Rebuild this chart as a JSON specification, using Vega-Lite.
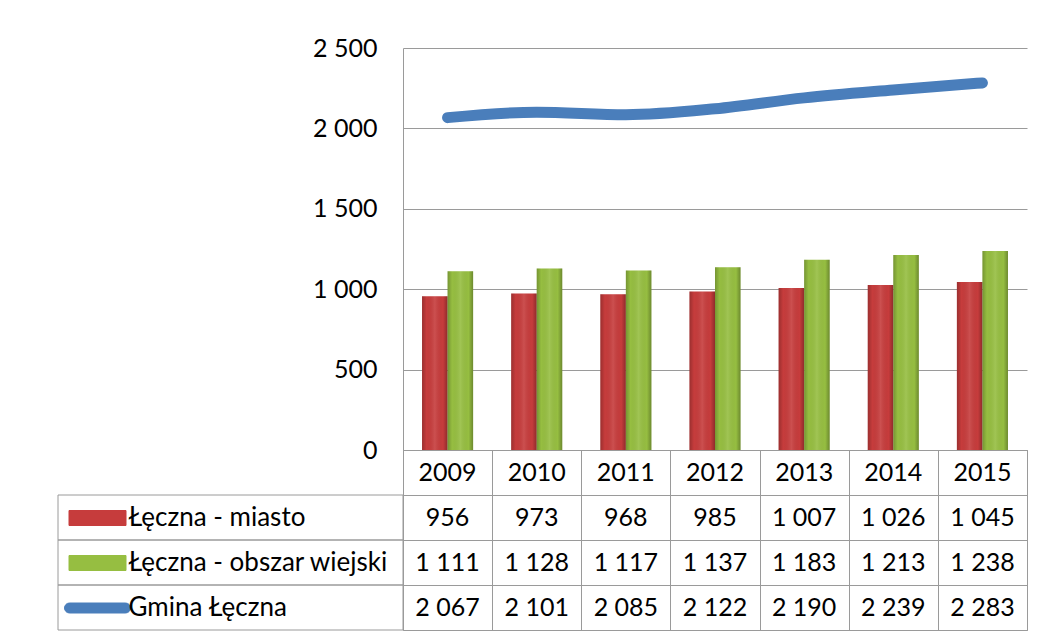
{
  "$schema": "https://vega.github.io/schema/vega-lite/v6.json",
  "padding": {"left": 57, "top": 36, "right": 10, "bottom": 5},
  "autosize": {"type": "pad"},
  "background": "white",
  "config": {
    "locale": {"number": {"decimal": ",", "thousands": " ", "grouping": [3], "currency": ["", " zł"]}},
    "font": "Lato",
    "view": {"stroke": null}
  },
  "datasets": {
    "pop": [
      {"year": "2009", "series": "Łęczna - miasto", "value": 956},
      {"year": "2009", "series": "Łęczna - obszar wiejski", "value": 1111},
      {"year": "2009", "series": "Gmina Łęczna", "value": 2067},
      {"year": "2010", "series": "Łęczna - miasto", "value": 973},
      {"year": "2010", "series": "Łęczna - obszar wiejski", "value": 1128},
      {"year": "2010", "series": "Gmina Łęczna", "value": 2101},
      {"year": "2011", "series": "Łęczna - miasto", "value": 968},
      {"year": "2011", "series": "Łęczna - obszar wiejski", "value": 1117},
      {"year": "2011", "series": "Gmina Łęczna", "value": 2085},
      {"year": "2012", "series": "Łęczna - miasto", "value": 985},
      {"year": "2012", "series": "Łęczna - obszar wiejski", "value": 1137},
      {"year": "2012", "series": "Gmina Łęczna", "value": 2122},
      {"year": "2013", "series": "Łęczna - miasto", "value": 1007},
      {"year": "2013", "series": "Łęczna - obszar wiejski", "value": 1183},
      {"year": "2013", "series": "Gmina Łęczna", "value": 2190},
      {"year": "2014", "series": "Łęczna - miasto", "value": 1026},
      {"year": "2014", "series": "Łęczna - obszar wiejski", "value": 1213},
      {"year": "2014", "series": "Gmina Łęczna", "value": 2239},
      {"year": "2015", "series": "Łęczna - miasto", "value": 1045},
      {"year": "2015", "series": "Łęczna - obszar wiejski", "value": 1238},
      {"year": "2015", "series": "Gmina Łęczna", "value": 2283}
    ]
  },
  "data": {"name": "pop"},
  "columns": 2,
  "spacing": 0,
  "bounds": "flush",
  "concat": [
    {
      "width": 345,
      "height": 402,
      "data": {"values": []},
      "mark": "point",
      "encoding": {}
    },
    {
      "width": 624,
      "height": 402,
      "encoding": {
        "x": {"field": "year", "type": "ordinal", "scale": {"paddingInner": 0, "paddingOuter": 0}, "axis": null},
        "y": {
          "field": "value", "type": "quantitative",
          "scale": {"domain": [0, 2500], "nice": false},
          "axis": {
            "values": [0, 500, 1000, 1500, 2000, 2500], "format": ",d", "title": null,
            "ticks": false, "labelPadding": 26, "labelFontSize": 25, "labelFont": "Lato",
            "labelColor": "#000", "domainColor": "#9a9a9a", "grid": true, "gridColor": "#9a9a9a"
          }
        }
      },
      "layer": [
        {
          "transform": [{"filter": "datum.series !== 'Gmina Łęczna'"}],
          "mark": {"type": "bar"},
          "encoding": {
            "xOffset": {"field": "series", "type": "nominal", "scale": {"domain": ["Łęczna - miasto", "Łęczna - obszar wiejski"], "paddingInner": 0, "paddingOuter": 0.745}},
            "color": {
              "field": "series", "type": "nominal",
              "scale": {"domain": ["Łęczna - miasto", "Łęczna - obszar wiejski", "Gmina Łęczna"], "range": ["#C63C3C", "#96BE41", "#4A7EBB"]},
              "legend": {
                "orient": "none", "legendX": 8, "legendY": 457, "title": null, "padding": 0,
                "labelFontSize": 26, "labelFont": "Lato", "labelColor": "#000", "labelLimit": 400,
                "symbolSize": 400, "symbolOffset": 18.5, "labelOffset": 18, "rowPadding": 19,
                "symbolType": "M-2.85,-0.75H2.85V0.75H-2.85Z",
                "encode": {
                  "symbols": {
                    "update": {
                      "shape": {"signal": "datum.value === 'Gmina Łęczna' ? 'M-2.8,-0.5H2.8A0.5,0.5,0,0,1,2.8,0.5H-2.8A0.5,0.5,0,0,1,-2.8,-0.5Z' : 'M-2.85,-0.75H2.85V0.75H-2.85Z'"},
                      "fill": {"signal": "datum.value === 'Łęczna - miasto' ? '#C63C3C' : datum.value === 'Łęczna - obszar wiejski' ? '#96BE41' : '#4A7EBB'"},
                      "stroke": {"signal": "datum.value === 'Gmina Łęczna' ? 'transparent' : datum.value === 'Łęczna - miasto' ? '#9E2B2D' : '#6F922B'"},
                      "strokeWidth": {"value": 1},
                      "opacity": {"value": 1}
                    }
                  }
                }
              }
            }
          }
        },
        {
          "transform": [{"filter": "datum.series !== 'Gmina Łęczna'"}],
          "mark": {
            "type": "bar",
            "fill": {"x1": 0, "x2": 1, "y1": 0, "y2": 0, "gradient": "linear", "stops": [
              {"offset": 0, "color": "rgba(0,0,0,0.22)"},
              {"offset": 0.18, "color": "rgba(0,0,0,0)"},
              {"offset": 0.5, "color": "rgba(255,255,255,0.1)"},
              {"offset": 0.82, "color": "rgba(0,0,0,0)"},
              {"offset": 1, "color": "rgba(0,0,0,0.28)"}
            ]}
          },
          "encoding": {
            "xOffset": {"field": "series", "type": "nominal"}
          }
        },
        {
          "transform": [{"filter": "datum.series === 'Gmina Łęczna'"}],
          "mark": {"type": "line", "strokeWidth": 11, "strokeCap": "round", "strokeJoin": "round", "interpolate": "monotone"},
          "encoding": {
            "color": {"field": "series", "type": "nominal"}
          }
        }
      ]
    },
    {
      "width": 345,
      "height": 180,
      "transform": [{"filter": "datum.year === '2009'"}],
      "mark": {"type": "rect", "filled": false, "color": "#9a9a9a", "strokeWidth": 1},
      "encoding": {
        "y": {"field": "series", "type": "nominal", "scale": {"domain": ["year", "Łęczna - miasto", "Łęczna - obszar wiejski", "Gmina Łęczna"], "paddingInner": 0, "paddingOuter": 0}, "axis": null}
      }
    },
    {
      "width": 624,
      "height": 180,
      "view": {"stroke": "#9a9a9a"},
      "encoding": {
        "x": {"field": "year", "type": "ordinal", "scale": {"paddingInner": 0, "paddingOuter": 0},
          "axis": {"orient": "top", "labels": false, "ticks": false, "domain": false, "grid": true, "gridColor": "#9a9a9a", "tickBand": "extent", "title": null}},
        "y": {"field": "series", "type": "nominal", "scale": {"domain": ["year", "Łęczna - miasto", "Łęczna - obszar wiejski", "Gmina Łęczna"], "paddingInner": 0, "paddingOuter": 0},
          "axis": {"labels": false, "ticks": false, "domain": false, "grid": true, "gridColor": "#9a9a9a", "tickBand": "extent", "title": null}}
      },
      "layer": [
        {
          "mark": {"type": "text", "fontSize": 25, "font": "Lato", "color": "#000"},
          "encoding": {"text": {"field": "value", "type": "quantitative", "format": ",d"}}
        },
        {
          "transform": [{"filter": "datum.series === 'Gmina Łęczna'"}],
          "mark": {"type": "text", "fontSize": 25, "font": "Lato", "color": "#000"},
          "encoding": {
            "y": {"datum": "year", "type": "nominal"},
            "text": {"field": "year", "type": "nominal"}
          }
        }
      ]
    }
  ]
}
